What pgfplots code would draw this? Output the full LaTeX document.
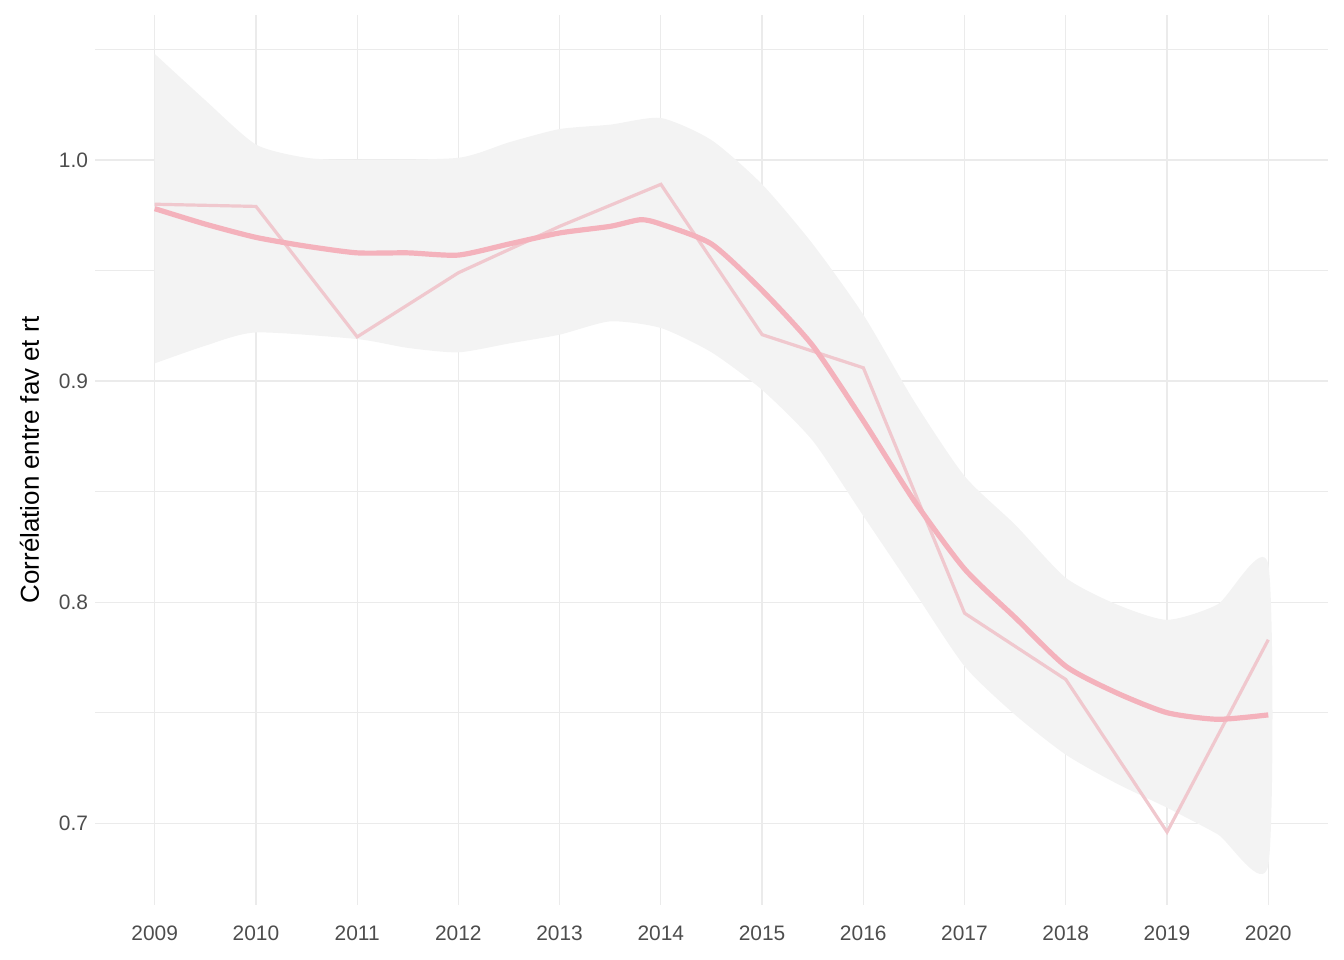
\documentclass[border=0pt]{standalone}
\usepackage{pgfplots}
\pgfplotsset{compat=1.18}
\usepackage{fontspec}
\setmainfont{Liberation Sans}
\definecolor{gridc}{HTML}{EBEBEB}
\definecolor{bandc}{HTML}{F3F3F3}
\definecolor{rawc}{HTML}{F0C8CE}
\definecolor{smc}{HTML}{F4B2BC}
\definecolor{tickc}{HTML}{4D4D4D}
\begin{document}
\begin{tikzpicture}
\begin{axis}[name=ax, scale only axis, width=616.5bp, height=445bp,
 xmin=2008.41, xmax=2020.59, ymin=0.663, ymax=1.0656,
 axis line style={draw=none}, tick style={draw=none},
 xtick={2009,...,2020}, ytick={0.7,0.8,0.9,1.0},
 minor ytick={0.75,0.85,0.95,1.05},
 xticklabel style={/pgf/number format/1000 sep={}, yshift=-7bp},
 yticklabel style={/pgf/number format/fixed,/pgf/number format/fixed zerofill,/pgf/number format/precision=1},
 /pgf/number format/assume math mode=true,
 ticklabel style={font=\fontsize{10.5}{12}\selectfont, text=tickc},
 grid=both, major grid style={gridc, line width=0.6bp}, minor grid style={gridc, line width=0.3bp},
 ylabel={Corrélation entre fav et rt}, ylabel style={font=\fontsize{13}{15}\selectfont, yshift=3bp},
 axis on top=false]
\addplot[fill=bandc, draw=none, smooth, tension=0.4] coordinates {
(2009,1.048)(2009.5,1.027)(2010,1.007)(2010.5,1.001)(2011,1.0)(2012,1.001)(2012.5,1.008)(2013,1.014)(2013.5,1.016)(2014,1.019)(2014.5,1.009)(2015,0.989)(2015.5,0.962)(2016,0.930)(2016.5,0.891)(2017,0.857)(2017.5,0.835)(2018,0.811)(2018.5,0.799)(2019,0.792)(2019.5,0.799)(2020,0.817)
(2020,0.681)(2019.5,0.695)(2019,0.707)(2018.5,0.718)(2018,0.731)(2017.5,0.749)(2017,0.771)(2016.5,0.805)(2016,0.839)(2015.5,0.873)(2015,0.896)(2014.5,0.913)(2014,0.924)(2013.5,0.927)(2013,0.921)(2012.5,0.917)(2012,0.913)(2011.5,0.915)(2011,0.919)(2010,0.922)(2009.5,0.916)(2009,0.908)} -- cycle;
\addplot[rawc, line width=1.6bp] coordinates {
(2009,0.980)(2010,0.979)(2011,0.920)(2012,0.949)(2013,0.970)(2014,0.989)(2015,0.921)(2016,0.906)(2017,0.795)(2018,0.765)(2019,0.696)(2020,0.783)};
\addplot[smc, line width=2.6bp, smooth, tension=0.4] coordinates {
(2009,0.978)(2009.5,0.971)(2010,0.965)(2010.5,0.961)(2011,0.958)(2011.5,0.958)(2012,0.957)(2012.5,0.962)(2013,0.967)(2013.5,0.970)(2013.8,0.973)(2014,0.971)(2014.5,0.962)(2015,0.941)(2015.5,0.916)(2016,0.882)(2016.5,0.846)(2017,0.815)(2017.5,0.793)(2018,0.771)(2018.5,0.759)(2019,0.750)(2019.5,0.747)(2020,0.749)};
\end{axis}
\path[use as bounding box] ([shift={(-47.5bp,-27.5bp)}]ax.south west) rectangle ([shift={(8bp,7.5bp)}]ax.north east);
\end{tikzpicture}
\end{document}
